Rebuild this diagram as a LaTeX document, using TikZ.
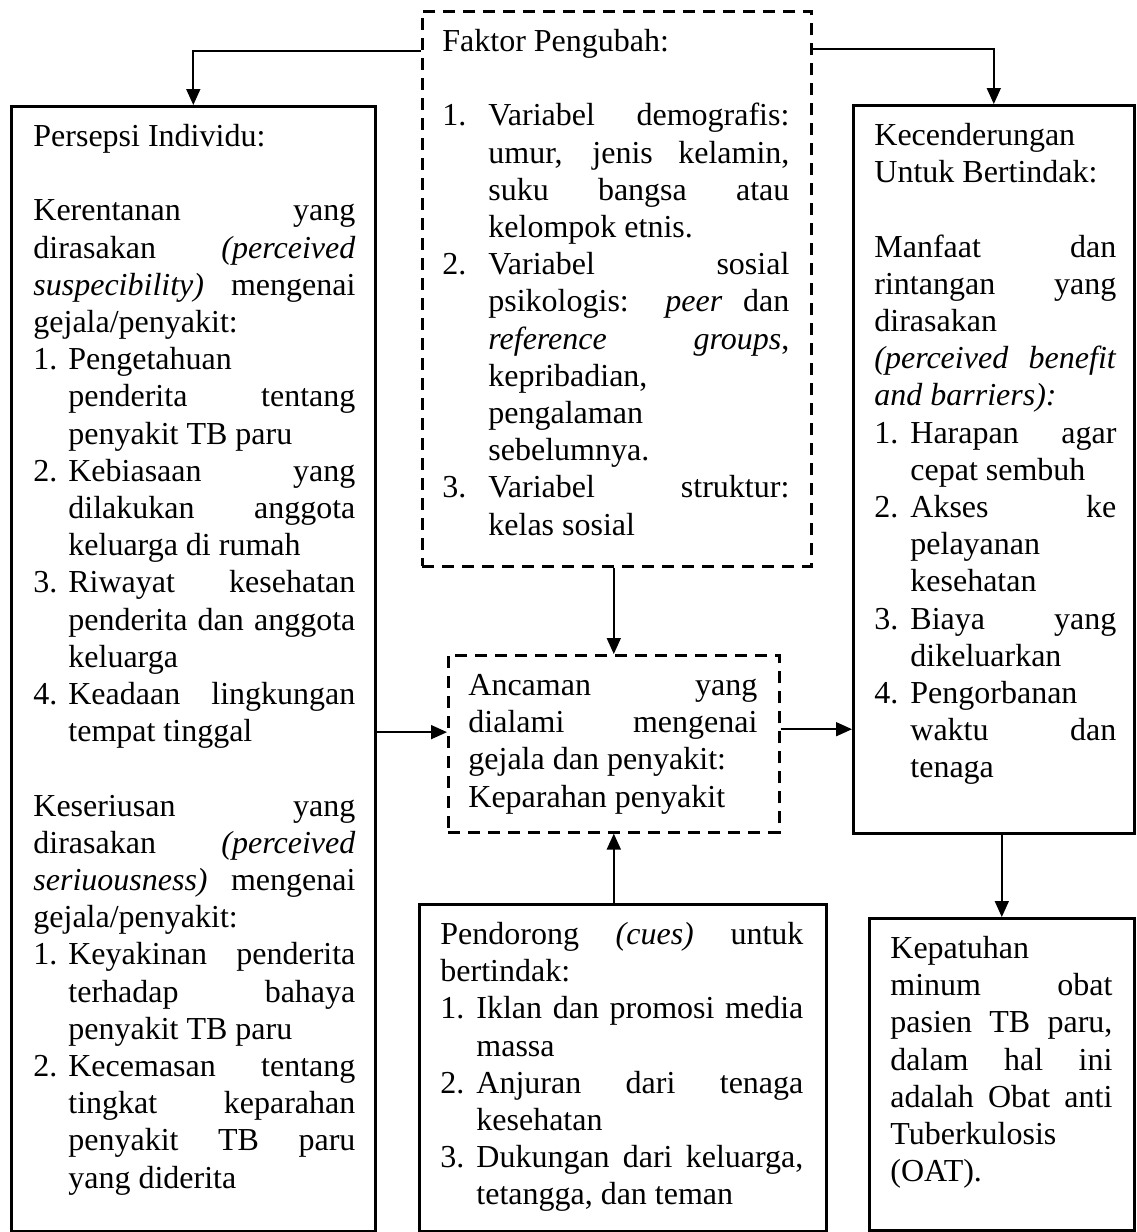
\documentclass[tikz,border=0pt]{standalone}
\usepackage{fontspec}
\setmainfont{Liberation Serif}
\usetikzlibrary{arrows.meta,positioning}
\newlength{\itmw}
\newcommand{\itm}[1]{\par\noindent\hangindent=\itmw\hangafter=1\makebox[\itmw][l]{#1}\ignorespaces}
\tikzset{
	solidbox/.style={draw,line width=1.3pt,inner sep=0pt,anchor=north west},
	dashbox/.style={solidbox,dash pattern=on 6pt off 4pt},
	boxtext/.style={anchor=north west,inner sep=0pt,align=justify,font={\fontsize{16}{18.6}\selectfont\parindent=0pt\hyphenpenalty=10000\tolerance=10000\hbadness=10000}},
	arr/.style={line width=0.85pt,-{Triangle[length=8pt,width=7pt]}}
}
\begin{document}
\begin{tikzpicture}[x=0.5pt,y=-0.5pt]
			\useasboundingbox (0,0) rectangle (1136,1232);
			\node[solidbox,minimum width=182pt,minimum height=562.5pt] (persepsi) at (10,105) {};
			\node[dashbox,minimum width=194.5pt,minimum height=277.5pt] (faktor) at (421,10) {};
			\node[dashbox,minimum width=165.5pt,minimum height=88.5pt] (ancaman) at (447,654) {};
			\node[solidbox,minimum width=203.5pt,minimum height=163.5pt] (pendorong) at (418,903) {};
			\node[solidbox,minimum width=140.5pt,minimum height=364pt] (kecend) at (852,104) {};
			\node[solidbox,minimum width=132.5pt,minimum height=156pt] (kepatuhan) at (868,917) {};
			\node[boxtext,text width=161pt] (persepsi-t) at ([shift={(23,15)}]persepsi.north west) {\itmw=17.5pt\strut Persepsi Individu:\par\vskip\baselineskip
				Kerentanan yang\linebreak dirasakan \textit{(perceived}\linebreak \textit{suspecibility)} mengenai\linebreak gejala/penyakit:
				\itm{1.}Pengetahuan\linebreak penderita tentang\linebreak penyakit TB paru
				\itm{2.}Kebiasaan yang\linebreak dilakukan anggota\linebreak keluarga di rumah
				\itm{3.}Riwayat kesehatan\linebreak penderita dan anggota\linebreak keluarga
				\itm{4.}Keadaan lingkungan\linebreak tempat tinggal\par\vskip\baselineskip
				Keseriusan yang\linebreak dirasakan \textit{(perceived}\linebreak \textit{seriuousness)} mengenai\linebreak gejala/penyakit:
				\itm{1.}Keyakinan penderita\linebreak terhadap bahaya\linebreak penyakit TB paru
				\itm{2.}Kecemasan tentang\linebreak tingkat keparahan\linebreak penyakit TB paru\linebreak yang diderita\par};
			\node[boxtext,text width=173.5pt] (faktor-t) at ([shift={(21,15)}]faktor.north west) {\itmw=23pt\strut Faktor Pengubah:\par\vskip\baselineskip
				\itm{1.}Variabel demografis:\linebreak umur, jenis kelamin,\linebreak suku bangsa atau\linebreak kelompok etnis.
				\itm{2.}Variabel sosial\linebreak psikologis: \textit{peer} dan\linebreak \textit{reference groups},\linebreak kepribadian,\linebreak pengalaman\linebreak sebelumnya.
				\itm{3.}Variabel struktur:\linebreak kelas sosial\par};
			\node[boxtext,text width=144.5pt] (ancaman-t) at ([shift={(21,15)}]ancaman.north west) {\strut Ancaman yang\linebreak dialami mengenai\linebreak gejala dan penyakit:\par Keparahan penyakit\par};
			\node[boxtext,text width=181.5pt] (pendorong-t) at ([shift={(22,15)}]pendorong.north west) {\itmw=18pt\strut Pendorong \textit{(cues)} untuk\linebreak bertindak:
				\itm{1.}Iklan dan promosi media\linebreak massa
				\itm{2.}Anjuran dari tenaga\linebreak kesehatan
				\itm{3.}Dukungan dari keluarga,\linebreak tetangga, dan teman\par};
			\node[boxtext,text width=121pt] (kecend-t) at ([shift={(22,15)}]kecend.north west) {\itmw=18pt\strut Kecenderungan\par Untuk Bertindak:\par\vskip\baselineskip
				Manfaat dan\linebreak rintangan yang\linebreak dirasakan\linebreak \textit{(perceived benefit}\linebreak \textit{and barriers):}
				\itm{1.}Harapan agar\linebreak cepat sembuh
				\itm{2.}Akses ke\linebreak pelayanan\linebreak kesehatan
				\itm{3.}Biaya yang\linebreak dikeluarkan
				\itm{4.}Pengorbanan\linebreak waktu dan\linebreak tenaga\par};
			\node[boxtext,text width=111pt] (kepatuhan-t) at ([shift={(22,15)}]kepatuhan.north west) {\strut Kepatuhan\linebreak minum obat\linebreak pasien TB paru,\linebreak dalam hal ini\linebreak adalah Obat anti\linebreak Tuberkulosis\linebreak (OAT).\par};
			\draw[arr] ([yshift=-20.5pt]faktor.north west) -| (persepsi.north);
			\draw[arr] ([yshift=-19.5pt]faktor.north east) -| (kecend.north);
			\draw[arr] (faktor.south -| ancaman.north) -- (ancaman.north);
			\draw[arr] (pendorong.north -| ancaman.south) -- (ancaman.south);
			\draw[arr] (persepsi.east |- ancaman.176) -- (ancaman.176);
			\draw[arr] (ancaman.5) -- (ancaman.5 -| kecend.west);
			\draw[arr] (kecend.south -| kepatuhan.north) -- (kepatuhan.north);
		\end{tikzpicture}
\end{document}
